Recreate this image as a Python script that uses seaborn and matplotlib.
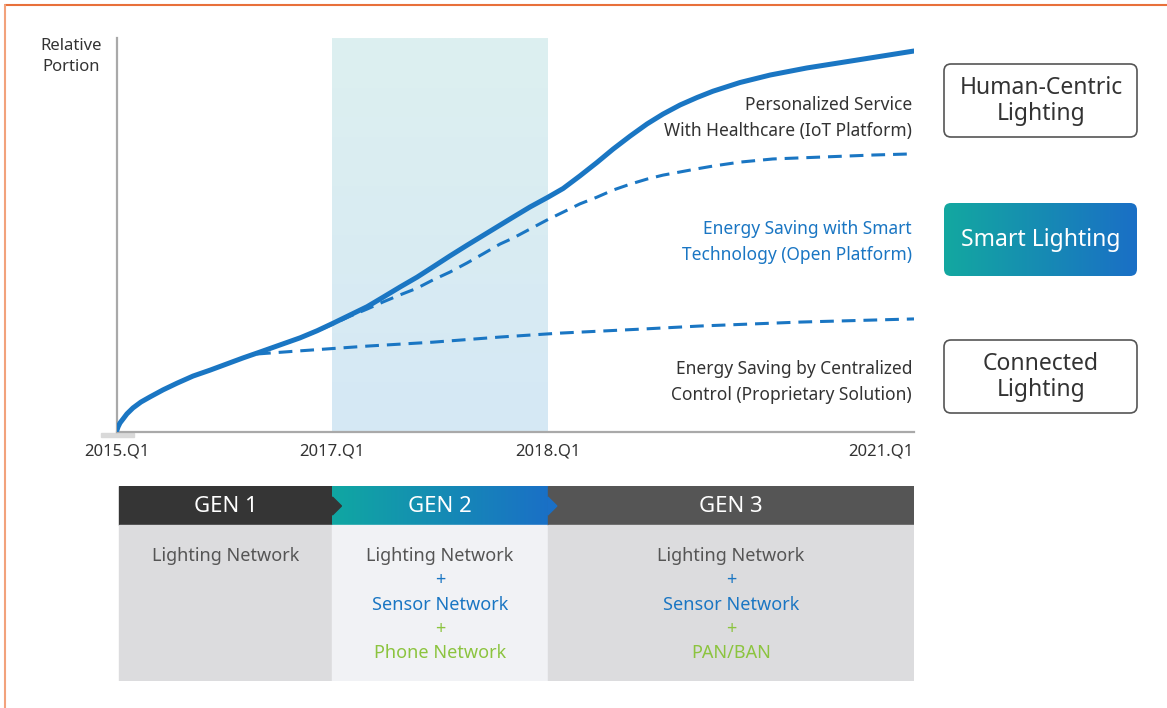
import numpy as np
import pandas as pd
import seaborn as sns
import matplotlib.pyplot as plt
import matplotlib.patches as mpatches
from matplotlib.colors import LinearSegmentedColormap

# timeline: 0 = 2015.Q1, 1 = 2017.Q1, 2 = 2018.Q1, 3.7 = 2021.Q1 (schematic spacing)
tick_pos = [0, 1, 2, 3.7]
tick_labels = ["2015.Q1", "2017.Q1", "2018.Q1", "2021.Q1"]

# relative portion (0-100)
hcl_x = [0.0, 0.005, 0.014, 0.028, 0.046, 0.074, 0.111, 0.153, 0.214, 0.279, 0.353, 0.432,
         0.511, 0.585, 0.664, 0.757, 0.850, 0.929, 1.003, 1.082, 1.161, 1.235, 1.314, 1.393,
         1.467, 1.546, 1.625, 1.685, 1.778, 1.838, 1.917, 2.001, 2.071, 2.149, 2.228, 2.303,
         2.382, 2.461, 2.535, 2.614, 2.693, 2.767, 2.892, 3.032, 3.203, 3.435, 3.700]
hcl_y = [0.5, 1.3, 2.3, 3.3, 4.6, 6.1, 7.6, 8.9, 10.7, 12.4, 14.2, 15.7,
         17.3, 18.8, 20.3, 22.1, 23.9, 25.7, 27.6, 29.7, 31.8, 34.2, 36.8, 39.3,
         41.9, 44.7, 47.4, 49.4, 52.5, 54.5, 57.1, 59.6, 61.8, 65.0, 68.4, 71.8,
         75.1, 78.2, 80.7, 83.0, 84.9, 86.5, 88.7, 90.6, 92.4, 94.4, 96.7]

smart_x = [0.664, 0.757, 0.850, 0.929, 1.003, 1.082, 1.161, 1.235, 1.314, 1.393, 1.467,
           1.546, 1.625, 1.699, 1.778, 1.838, 1.917, 1.996, 2.071, 2.149, 2.228, 2.303,
           2.382, 2.461, 2.535, 2.614, 2.693, 2.767, 2.892, 3.045, 3.278, 3.510, 3.700]
smart_y = [20.3, 22.1, 23.9, 25.6, 27.4, 29.4, 31.2, 33.0, 34.8, 36.5, 38.6,
           40.6, 42.9, 45.2, 47.7, 49.2, 51.5, 53.8, 55.8, 57.9, 59.6, 61.4,
           62.9, 64.2, 65.2, 66.0, 66.8, 67.5, 68.5, 69.3, 69.8, 70.3, 70.6]

conn_x = [0.650, 0.850, 1.161, 1.467, 1.778, 2.057, 2.428, 2.707, 3.171, 3.700]
conn_y = [19.8, 20.6, 21.8, 22.8, 24.1, 25.1, 26.1, 26.9, 27.9, 28.7]

series_names = ["Human-Centric", "Smart", "Connected"]

curve_notes = [
    ["Personalized Service", "With Healthcare (IoT Platform)"],
    ["Energy Saving with Smart", "Technology (Open Platform)"],
    ["Energy Saving by Centralized", "Control (Proprietary Solution)"],
]
box_labels = ["Human-Centric\nLighting", "Smart Lighting", "Connected\nLighting"]

gen_names = ["GEN 1", "GEN 2", "GEN 3"]
gen_lines = [
    ["Lighting Network"],
    ["Lighting Network", "+", "Sensor Network", "+", "Phone Network"],
    ["Lighting Network", "+", "Sensor Network", "+", "PAN/BAN"],
]

BLUE = "#1a76c3"
GREEN = "#8cc43f"
DARK = "#333333"
GRAY_TXT = "#555555"
line_colors = {"Lighting Network": GRAY_TXT, "Sensor Network": BLUE,
               "Phone Network": GREEN, "PAN/BAN": GREEN}

sns.set_theme(style="white")
plt.rcParams["font.family"] = ["Noto Sans", "DejaVu Sans"]

W, H = 1167, 708
fig = plt.figure(figsize=(W / 100, H / 100), dpi=100)

# background layer in pixel coords
bg = fig.add_axes([0, 0, 1, 1], zorder=0)
bg.set_xlim(0, W)
bg.set_ylim(H, 0)
bg.axis("off")
bg.plot([5, W], [5, 5], color="#e8703a", lw=1.5)
bg.plot([5, 5], [5, H], color="#f2a27c", lw=1.5)
bg.add_patch(mpatches.Rectangle((101, 433), 33, 4, color="#d9d9d9"))

# main chart
ax = fig.add_axes([117 / W, 1 - 432 / H, 797 / W, 394 / H], zorder=1)
ax.patch.set_alpha(0)

band_cmap = LinearSegmentedColormap.from_list("band", ["#d5e8f5", "#ddf0f0"])
ax.imshow(np.linspace(0, 1, 256).reshape(-1, 1), cmap=band_cmap, origin="lower",
          extent=(tick_pos[1], tick_pos[2], 0, 100), aspect="auto", zorder=0)

df = pd.concat([
    pd.DataFrame({"t": hcl_x, "portion": hcl_y, "series": series_names[0]}),
    pd.DataFrame({"t": smart_x, "portion": smart_y, "series": series_names[1]}),
    pd.DataFrame({"t": conn_x, "portion": conn_y, "series": series_names[2]}),
])
sns.lineplot(data=df, x="t", y="portion", hue="series", style="series", size="series",
             hue_order=series_names, style_order=series_names, size_order=series_names,
             palette={n: BLUE for n in series_names},
             dashes={series_names[0]: "", series_names[1]: (4.5, 2.6), series_names[2]: (4.5, 2.6)},
             sizes={series_names[0]: 3.6, series_names[1]: 2.2, series_names[2]: 2.2},
             estimator=None, sort=False, legend=False, ax=ax, zorder=3)
for ln in ax.lines:
    ln.set_solid_capstyle("round")
    ln.set_solid_joinstyle("round")

ax.set_xlim(0, tick_pos[-1])
ax.set_ylim(0, 100)
ax.set_xticks(tick_pos)
ax.set_xticklabels(tick_labels)
ax.get_xticklabels()[-1].set_horizontalalignment("right")
ax.set_yticks([])
ax.set_xlabel("")
ax.set_ylabel("")
ax.tick_params(axis="x", length=0, pad=8, labelsize=12, labelcolor=DARK)
sns.despine(ax=ax)
for side in ["left", "bottom"]:
    ax.spines[side].set_color("#a9a9a9")
    ax.spines[side].set_linewidth(1.6)

bg.text(71, 46, "Relative", ha="center", va="center", fontsize=12, color=DARK)
bg.text(71, 67, "Portion", ha="center", va="center", fontsize=12, color=DARK)

# notes next to the curves
note_y = [105, 229, 369]
note_col = [DARK, BLUE, DARK]
for lines, y0, c in zip(curve_notes, note_y, note_col):
    for k, s in enumerate(lines):
        bg.text(912, y0 + 26 * k, s, ha="right", va="center", fontsize=12.5, color=c)

# category boxes on the right
box_top = [64, 203, 340]
smart_cmap = LinearSegmentedColormap.from_list("smart", ["#13a8a0", "#1a6fc6"])
for k, (lab, y0) in enumerate(zip(box_labels, box_top)):
    smart = k == 1
    patch = mpatches.FancyBboxPatch((944, y0), 193, 73, boxstyle="round,pad=0,rounding_size=7",
                                    fc="none" if smart else "white",
                                    ec="none" if smart else "#555555", lw=1.2, zorder=2)
    bg.add_patch(patch)
    if smart:
        im = bg.imshow(np.linspace(0, 1, 256).reshape(1, -1), cmap=smart_cmap,
                       extent=(944, 1137, y0 + 73, y0), aspect="auto", zorder=1)
        im.set_clip_path(patch)
    bg.text(1041, y0 + 37, lab, ha="center", va="center", fontsize=16.5, linespacing=1.1,
            color="white" if smart else DARK, zorder=3)
bg.set_xlim(0, W)
bg.set_ylim(H, 0)

# generation table below the timeline
tab = fig.add_axes([117 / W, 1 - 681 / H, 797 / W, 195 / H], sharex=ax, zorder=1)
tab.axis("off")
head_cols = ["#353535", None, "#555555"]
body_cols = ["#dcdcde", "#f1f2f5", "#dcdcde"]
gen_cmap = LinearSegmentedColormap.from_list("gen", ["#10a7a2", "#1a70c6"])
bounds = [0.01] + tick_pos[1:]
for i, name in enumerate(gen_names):
    x0, x1 = bounds[i], bounds[i + 1]
    xc = (x0 + x1) / 2
    if head_cols[i] is None:
        tab.imshow(np.linspace(0, 1, 256).reshape(1, -1), cmap=gen_cmap,
                   extent=(x0, x1, 525, 486), aspect="auto", zorder=1)
    else:
        tab.add_patch(mpatches.Rectangle((x0, 486), x1 - x0, 39, color=head_cols[i], zorder=1))
    tab.add_patch(mpatches.Rectangle((x0, 525), x1 - x0, 156, color=body_cols[i], zorder=1))
    tab.text(xc, 506, name, ha="center", va="center", color="white", fontsize=16, zorder=4)
    for j, s in enumerate(gen_lines[i]):
        if s == "+":
            c = BLUE if j == 1 else GREEN
        else:
            c = line_colors[s]
        tab.text(xc, 556 + 24.3 * j, s, ha="center", va="center", fontsize=13, color=c, zorder=4)
# chevrons between header cells
chev_cols = ["#353535", "#1a70c6"]
for i in range(2):
    xb = bounds[i + 1]
    tab.add_patch(mpatches.Polygon([(xb, 497), (xb + 0.042, 506), (xb, 515)],
                                   closed=True, color=chev_cols[i], zorder=3))
tab.set_ylim(681, 486)
ax.set_xlim(0, tick_pos[-1])

fig.savefig("out.png", dpi=100)
